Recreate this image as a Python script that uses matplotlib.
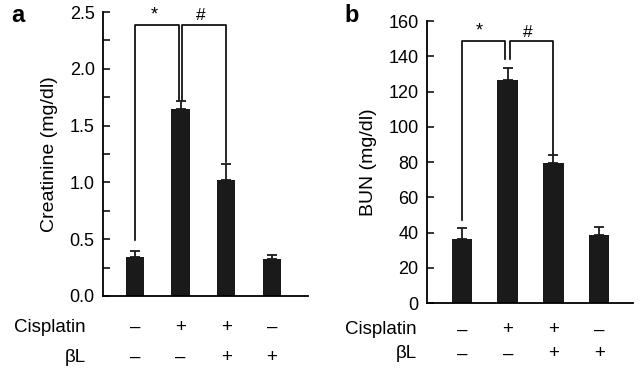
import matplotlib
matplotlib.use("Agg")
import matplotlib.pyplot as plt
import matplotlib.transforms as mtransforms
from matplotlib.ticker import MultipleLocator

plt.rcParams['font.family'] = ['Liberation Sans', 'DejaVu Sans']

groups = [0, 1, 2, 3]
cisplatin = ['\u2013', '+', '+', '\u2013']
beta_l = ['\u2013', '\u2013', '+', '+']

creat_mean = [0.34, 1.65, 1.02, 0.33]
creat_err = [0.06, 0.07, 0.14, 0.03]

bun_mean = [36.4, 126.4, 79.8, 38.7]
bun_err = [6.4, 7.2, 4.2, 4.7]

fig = plt.figure(figsize=(6.4, 3.78), dpi=100)
axa = fig.add_axes([0.161, 0.217, 0.320, 0.751])
axb = fig.add_axes([0.667, 0.198, 0.322, 0.746])

def style(ax, ylim, major, minor, fmt):
    ax.set_ylim(*ylim)
    ax.spines['top'].set_visible(False)
    ax.spines['right'].set_visible(False)
    ax.spines['left'].set_linewidth(1.3)
    ax.spines['bottom'].set_linewidth(1.3)
    ax.yaxis.set_major_locator(MultipleLocator(major))
    if minor:
        ax.yaxis.set_minor_locator(MultipleLocator(minor))
    ax.tick_params(axis='y', which='both', direction='in', length=5, width=1.1,
                   labelsize=13, pad=6)
    ax.yaxis.set_major_formatter(fmt)
    ax.set_xticks([])

def bars(ax, means, errs, width, xlim):
    ax.bar(groups, means, width=width, color='#1a1a1a', zorder=2)
    ax.errorbar(groups, means, yerr=[[0] * len(errs), errs], fmt='none',
                ecolor='#1a1a1a', elinewidth=1.3, capsize=3.5, capthick=1.3, zorder=3)
    ax.set_xlim(*xlim)

def signs(ax, y1, y2, xlab, fs=13.5):
    tr = mtransforms.blended_transform_factory(ax.transData, ax.transAxes)
    for g, c, b in zip(groups, cisplatin, beta_l):
        ax.text(g, y1, c, transform=tr, ha='center', va='center', fontsize=fs, clip_on=False)
        ax.text(g, y2, b, transform=tr, ha='center', va='center', fontsize=fs, clip_on=False)
    ax.text(xlab, y1, 'Cisplatin', transform=ax.transAxes, ha='right', va='center', fontsize=fs)
    ax.text(xlab, y2, '\u03b2L', transform=ax.transAxes, ha='right', va='center', fontsize=fs)

# Panel a
bars(axa, creat_mean, creat_err, 0.40, (-0.7, 3.79))
style(axa, (0, 2.5), 0.5, 0.25, matplotlib.ticker.FormatStrFormatter('%.1f'))
axa.set_ylabel('Creatinine (mg/dl)', fontsize=14, labelpad=8)
lw = 1.2
axa.plot([0, 0, 0.96, 0.96], [0.49, 2.39, 2.39, 1.73], color='black', lw=lw, zorder=1)
axa.plot([1.04, 1.04, 2.0, 2.0], [1.73, 2.39, 2.39, 1.18], color='black', lw=lw, zorder=1)
axa.text(0.42, 2.40, '*', ha='center', va='bottom', fontsize=13)
axa.text(1.45, 2.40, '#', ha='center', va='bottom', fontsize=12.5)
signs(axa, -0.11, -0.215, -0.085)
fig.text(0.018, 0.958, 'a', fontsize=17, fontweight='bold', ha='left', va='center')

# Panel b
bars(axb, bun_mean, bun_err, 0.45, (-0.77, 3.74))
style(axb, (0, 160), 20, None, matplotlib.ticker.FormatStrFormatter('%d'))
axb.set_ylabel('BUN (mg/dl)', fontsize=14, labelpad=8)
axb.plot([0, 0, 0.95, 0.95], [47, 148.7, 148.7, 138.7], color='black', lw=lw, zorder=1)
axb.plot([1.05, 1.05, 2.0, 2.0], [138.7, 148.7, 148.7, 84.9], color='black', lw=lw, zorder=1)
axb.text(0.37, 149.5, '*', ha='center', va='bottom', fontsize=13)
axb.text(1.44, 149.5, '#', ha='center', va='bottom', fontsize=12.5)
signs(axb, -0.095, -0.18, -0.05)
fig.text(0.538, 0.958, 'b', fontsize=17, fontweight='bold', ha='left', va='center')

fig.savefig('out.png', dpi=100)
